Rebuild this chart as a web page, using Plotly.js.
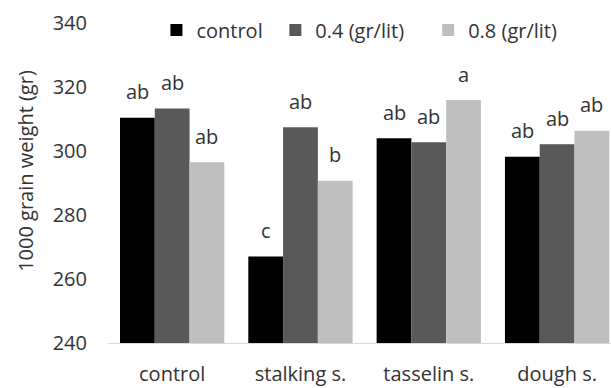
<!DOCTYPE html>
<html>
<head>
<meta charset="utf-8">
<script src="https://cdn.plot.ly/plotly-3.0.1.min.js"></script>
<style>html,body{margin:0;padding:0;background:#fff;}#chart{width:611px;height:388px;}</style>
</head>
<body>
<div id="chart"></div>
<script>
const categories = ["control", "stalking s.", "tasselin s.", "dough s."];
const seriesNames = ["control", "0.4 (gr/lit)", "0.8 (gr/lit)"];
const controlValues = [310.4, 267.0, 304.0, 298.2];
const dose04Values = [313.3, 307.4, 302.7, 302.1];
const dose08Values = [296.5, 290.7, 315.9, 306.3];
const controlLetters = ["ab", "c", "ab", "ab"];
const dose04Letters = ["ab", "ab", "ab", "ab"];
const dose08Letters = ["ab", "b", "a", "ab"];
const yTickValues = [240, 260, 280, 300, 320, 340];

const colors = ["#000000", "#595959", "#bfbfbf"];
const allValues = [controlValues, dose04Values, dose08Values];
const allLetters = [controlLetters, dose04Letters, dose08Letters];
const FONT = "Open Sans, sans-serif";
const TXT = "#333333";
const bargap = 0.187;
const legendIds = ["legend", "legend2", "legend3"];
const legendX = [0.0963, 0.3327, 0.6365];

const traces = allValues.map((vals, i) => ({
  type: "bar",
  name: seriesNames[i],
  legend: legendIds[i],
  x: categories.map((c, j) => j),
  y: vals,
  marker: {color: colors[i], line: {width: 0}},
  hoverinfo: "skip"
}));

const annotations = [];
const w = (1 - bargap) / 3;
allValues.forEach((vals, i) => {
  vals.forEach((v, j) => {
    annotations.push({
      x: j + (i - 1) * w, y: v, xref: "x", yref: "y",
      text: allLetters[i][j], showarrow: false,
      yshift: 26, yanchor: "middle",
      font: {family: FONT, size: 20, color: TXT}
    });
  });
});
annotations.push({
  xref: "paper", yref: "paper", x: -0.163, y: 0.538,
  text: "1000 grain weight (gr)", textangle: -90, showarrow: false,
  xanchor: "center", yanchor: "middle",
  font: {family: FONT, size: 20, color: TXT}
});

const layout = {
  width: 611, height: 388,
  margin: {l: 107.5, r: 0, t: 23, b: 45},
  paper_bgcolor: "#fff", plot_bgcolor: "#fff",
  barmode: "group", bargap: bargap, bargroupgap: 0,
  font: {family: FONT, size: 20, color: TXT},
  showlegend: true,
  xaxis: {
    type: "linear", range: [-0.5, 3.42],
    tickvals: categories.map((c, j) => j), ticktext: categories,
    showgrid: false, zeroline: false, showline: true, linecolor: "#d9d9d9", linewidth: 1,
    ticks: "", ticklabelstandoff: 13,
    tickfont: {family: FONT, size: 20, color: TXT}
  },
  yaxis: {
    range: [240, 340], tickvals: yTickValues,
    showgrid: false, zeroline: false, showline: false,
    ticks: "", ticklabelstandoff: 20,
    tickfont: {family: FONT, size: 20, color: TXT}
  },
  annotations: annotations
};
legendIds.forEach((id, i) => {
  layout[id] = {
    orientation: "h", x: legendX[i], y: 0.978, xanchor: "left", yanchor: "middle",
    font: {family: FONT, size: 20, color: TXT}, bgcolor: "rgba(0,0,0,0)",
    itemwidth: 30
  };
});

Plotly.newPlot("chart", traces, layout, {displayModeBar: false, staticPlot: true});
</script>
</body>
</html>
